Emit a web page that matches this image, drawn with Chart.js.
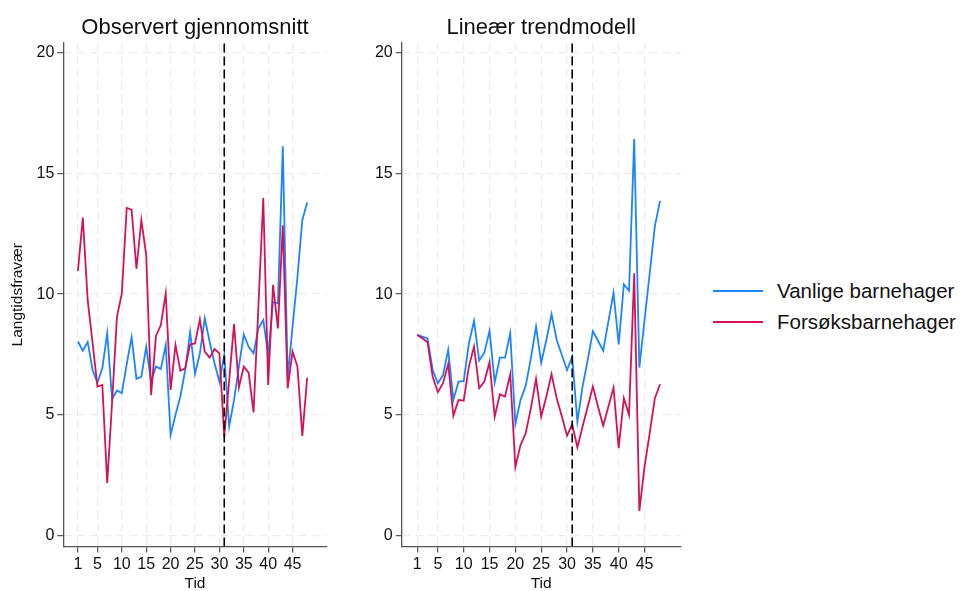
<!DOCTYPE html>
<html>
<head>
<meta charset="utf-8">
<script src="https://cdn.jsdelivr.net/npm/chart.js@4.4.1/dist/chart.umd.min.js"></script>
<style>
  body { margin: 0; background: #fff; width: 965px; height: 591px; position: relative; overflow: hidden; font-family: "Liberation Sans", Arial, sans-serif; }
  canvas { position: absolute; top: 0; }
  #legend { position: absolute; left: 713px; top: 275px; }
  .row { display: flex; align-items: center; height: 31px; }
  .swatch { width: 50px; height: 0; border-top: 2px solid; margin-right: 14px; }
  .row span { font-size: 20.5px; color: #111; white-space: nowrap; }
</style>
</head>
<body>
<canvas id="chart1" width="345" height="591" style="left:0"></canvas>
<canvas id="chart2" width="345" height="591" style="left:355px"></canvas>
<div id="legend"></div>
<script>
// DATA
const tid = [1, 2, 3, 4, 5, 6, 7, 8, 9, 10, 11, 12, 13, 14, 15, 16, 17, 18, 19, 20, 21, 22, 23, 24,
  25, 26, 27, 28, 29, 30, 31, 32, 33, 34, 35, 36, 37, 38, 39, 40, 41, 42, 43, 44, 45, 46, 47, 48];
const xTicks = [1, 5, 10, 15, 20, 25, 30, 35, 40, 45];
const yTicks = [0, 5, 10, 15, 20];
const cutoff = 31;
const seriesNames = ["Vanlige barnehager", "Forsøksbarnehager"];
const titles = ["Observert gjennomsnitt", "Lineær trendmodell"];

// observed means
const obsVanlige = [8.04, 7.66, 8.02, 6.86, 6.34, 6.93, 8.38, 5.66, 6.01, 5.9, 7.1, 8.21, 6.49, 6.58, 7.82, 6.38,
  7.0, 6.9, 7.89, 4.17, 5.0, 5.76, 6.86, 8.43, 6.69, 7.55, 9.0, 8.03, 7.14, 6.38, 7.48, 4.52,
  5.6, 7.0, 8.33, 7.82, 7.55, 8.58, 8.93, 7.48, 9.68, 9.62, 16.12, 6.52, 8.65, 10.7, 13.06, 13.8];
const obsForsok = [10.96, 13.17, 9.75, 7.98, 6.17, 6.24, 2.18, 5.5, 9.06, 10.03, 13.57, 13.5, 11.05, 13.07, 11.62, 5.83,
  8.27, 8.72, 10.03, 6.03, 7.89, 6.83, 6.93, 7.92, 7.96, 8.95, 7.62, 7.37, 7.73, 7.55, 4.1, 6.4,
  8.76, 6.14, 7.0, 6.75, 5.1, 9.5, 13.98, 6.24, 10.39, 8.58, 12.85, 6.1, 7.62, 7.0, 4.13, 6.54];

// linear trend model
const trendVanlige = [8.31, 8.24, 8.17, 6.86, 6.31, 6.65, 7.69, 5.62, 6.38, 6.4, 7.96, 8.89, 7.25, 7.58, 8.49, 6.34,
  7.37, 7.37, 8.38, 4.62, 5.62, 6.2, 7.34, 8.65, 7.16, 8.1, 9.17, 8.1, 7.48, 6.86, 7.41, 4.72,
  6.17, 7.27, 8.47, 8.07, 7.66, 8.86, 10.06, 7.92, 10.41, 10.14, 16.42, 6.96, 8.93, 10.86, 12.82, 13.86];
const trendForsok = [8.31, 8.17, 8.01, 6.58, 5.94, 6.31, 7.11, 4.96, 5.62, 5.59, 7.0, 7.83, 6.1, 6.38, 7.18, 4.93,
  5.85, 5.76, 6.68, 2.84, 3.75, 4.24, 5.27, 6.49, 4.93, 5.76, 6.69, 5.69, 4.93, 4.14, 4.61, 3.66,
  4.51, 5.34, 6.17, 5.34, 4.56, 5.34, 6.13, 3.62, 5.69, 5.0, 10.86, 1.02, 2.86, 4.24, 5.69, 6.27];

const blue = "#1a85ff";
const red = "#d41159";
const axisColor = "#555";
const gridColor = "#ececec";
const xMin = -2, xMax = 52;
const yMin = -0.45, yMax = 20.4;

Chart.defaults.font.family = '"Liberation Sans", Arial, sans-serif';
Chart.defaults.color = "#111";

//CHARTING THE TWO PANELS
chartIt("chart1", titles[0], obsVanlige, obsForsok, true, 63.3, 18.3);
chartIt("chart2", titles[1], trendVanlige, trendForsok, false, 46.7, 19.3);

function toPoints(values) {
  return tid.map((t, i) => ({ x: t, y: values[i] }));
}

function chartIt(canvasName, title, vanlige, forsok, yTitle, yWidth, padRight) {
  const ctx = document.getElementById(canvasName).getContext("2d");
  new Chart(ctx, {
    type: "line",
    data: {
      datasets: [
        {
          label: "cutoff",
          data: [{ x: cutoff, y: yMin }, { x: cutoff, y: yMax }],
          borderColor: "#000",
          borderWidth: 1.6,
          borderDash: [9, 4],
          pointRadius: 0,
        },
        {
          label: seriesNames[1],
          data: toPoints(forsok),
          borderColor: red,
          borderWidth: 1.8,
          pointRadius: 0,
          tension: 0,
        },
        {
          label: seriesNames[0],
          data: toPoints(vanlige),
          borderColor: blue,
          borderWidth: 1.8,
          pointRadius: 0,
          tension: 0,
        },
      ],
    },
    options: {
      responsive: false,
      animation: false,
      layout: { padding: { left: 0, right: padRight, top: 0, bottom: 0 } },
      plugins: {
        legend: { display: false },
        tooltip: { enabled: false },
        title: {
          display: true,
          text: title,
          fullSize: false,
          color: "#111",
          font: { size: 22, weight: "normal", lineHeight: 1.2 },
          padding: { top: 14.8, bottom: 1.8 },
        },
      },
      scales: {
        x: {
          type: "linear",
          min: xMin,
          max: xMax,
          afterBuildTicks: (s) => { s.ticks = xTicks.map((v) => ({ value: v })); },
          afterFit: (s) => { s.height = 44.5; },
          grid: { color: gridColor, lineWidth: 1.3, tickLength: 6, tickColor: axisColor, tickWidth: 1.2, tickBorderDash: [] },
          border: { color: axisColor, width: 1.3, dash: [8, 5] },
          ticks: { padding: 2.3, font: { size: 16 }, color: "#111", maxRotation: 0, autoSkip: false },
          title: { display: true, text: "Tid", font: { size: 15.5, lineHeight: 1 }, padding: { top: 0, bottom: 0 }, color: "#111" },
        },
        y: {
          type: "linear",
          min: yMin,
          max: yMax,
          afterBuildTicks: (s) => { s.ticks = yTicks.map((v) => ({ value: v })); },
          afterFit: (s) => { s.width = yWidth; },
          grid: { color: gridColor, lineWidth: 1.3, tickLength: 6, tickColor: axisColor, tickWidth: 1.2, tickBorderDash: [] },
          border: { color: axisColor, width: 1.3, dash: [8, 5] },
          ticks: { padding: 3, font: { size: 16 }, color: "#111" },
          title: { display: yTitle, text: "Langtidsfravær", font: { size: 15.5, lineHeight: 1 }, padding: { top: 10, bottom: 0 }, color: "#111" },
        },
      },
    },
  });
}

//LEGEND
const legend = document.getElementById("legend");
[blue, red].forEach((c, i) => {
  const row = document.createElement("div");
  row.className = "row";
  row.innerHTML = '<div class="swatch" style="border-color:' + c + '"></div><span>' + seriesNames[i] + "</span>";
  legend.appendChild(row);
});
</script>
</body>
</html>
